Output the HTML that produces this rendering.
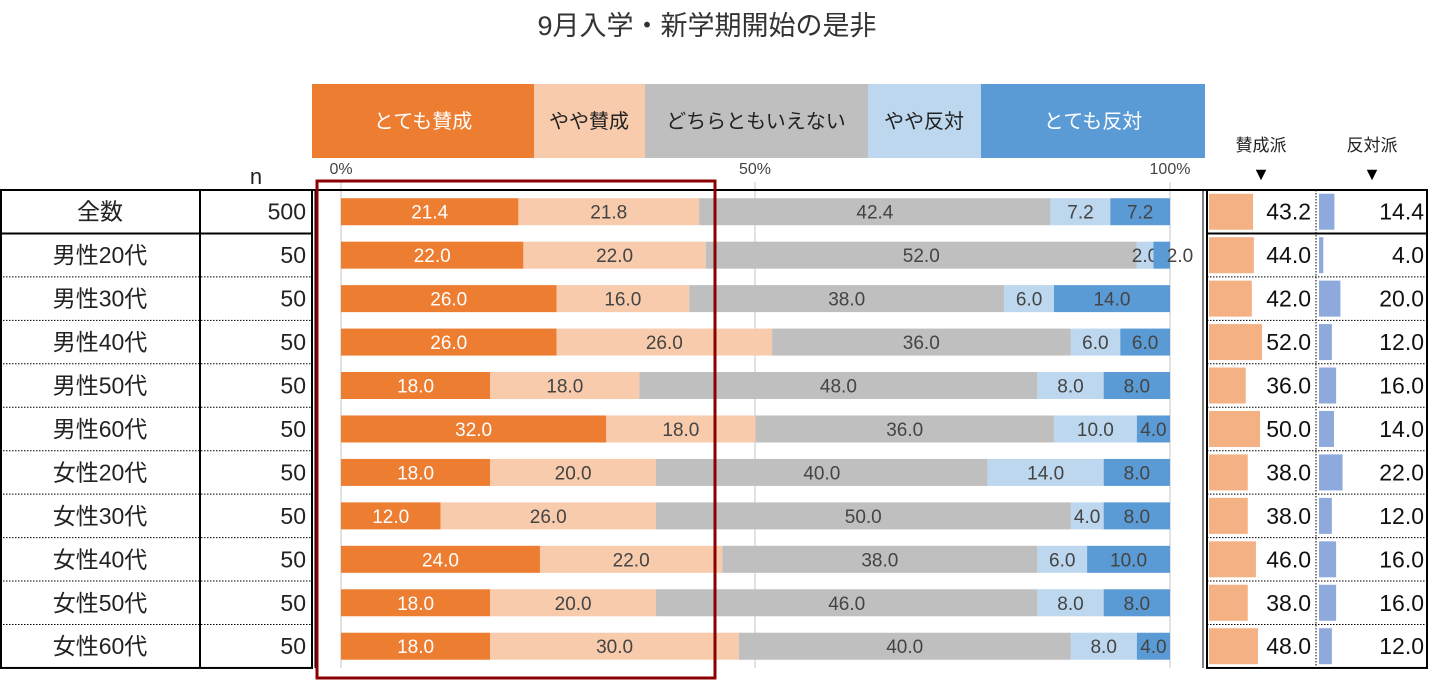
<!DOCTYPE html>
<html><head><meta charset="utf-8"><style>
body{margin:0;background:#fff;}
svg text{font-family:"Liberation Sans","Noto Sans CJK JP",sans-serif;}
</style></head><body>
<svg id="s" width="1430" height="681" xmlns="http://www.w3.org/2000/svg">
<text x="707" y="35" font-size="27" text-anchor="middle" fill="#333">9月入学・新学期開始の是非</text>
<rect x="312" y="84" width="222" height="74" fill="#ED7D31"/><text x="423" y="128" font-size="20" fill="#fff" text-anchor="middle">とても賛成</text>
<rect x="534" y="84" width="111" height="74" fill="#F8CBAD"/><text x="589" y="128" font-size="20" fill="#222" text-anchor="middle">やや賛成</text>
<rect x="645" y="84" width="223" height="74" fill="#BFBFBF"/><text x="756" y="128" font-size="20" fill="#222" text-anchor="middle">どちらともいえない</text>
<rect x="868" y="84" width="113" height="74" fill="#BDD7EE"/><text x="924" y="128" font-size="20" fill="#222" text-anchor="middle">やや反対</text>
<rect x="981" y="84" width="224" height="74" fill="#5B9BD5"/><text x="1093" y="128" font-size="20" fill="#fff" text-anchor="middle">とても反対</text>
<text x="341" y="174" font-size="16" fill="#444" text-anchor="middle">0%</text>
<text x="755" y="174" font-size="16" fill="#444" text-anchor="middle">50%</text>
<text x="1170" y="174" font-size="16" fill="#444" text-anchor="middle">100%</text>
<text x="256" y="184" font-size="22" fill="#222" text-anchor="middle">n</text>
<text x="1261" y="151" font-size="17" fill="#222" text-anchor="middle">賛成派</text>
<text x="1372" y="151" font-size="17" fill="#222" text-anchor="middle">反対派</text>
<text x="1261" y="180" font-size="18" fill="#000" text-anchor="middle">▼</text>
<text x="1372" y="180" font-size="18" fill="#000" text-anchor="middle">▼</text>
<line x1="341" y1="182" x2="341" y2="668" stroke="#D9D9D9" stroke-width="1.5"/>
<line x1="755" y1="182" x2="755" y2="668" stroke="#D9D9D9" stroke-width="1.5"/>
<line x1="1170" y1="182" x2="1170" y2="668" stroke="#D9D9D9" stroke-width="1.5"/>
<g id="g"></g>
<rect x="317" y="181" width="398" height="497" fill="none" stroke="#8B0000" stroke-width="3"/>
</svg>
<script>
var d=[["全数",500,[21.4,21.8,42.4,7.2,7.2],43.2,14.4],["男性20代",50,[22,22,52,2,2],44,4],["男性30代",50,[26,16,38,6,14],42,20],["男性40代",50,[26,26,36,6,6],52,12],["男性50代",50,[18,18,48,8,8],36,16],["男性60代",50,[32,18,36,10,4],50,14],["女性20代",50,[18,20,40,14,8],38,22],["女性30代",50,[12,26,50,4,8],38,12],["女性40代",50,[24,22,38,6,10],46,16],["女性50代",50,[18,20,46,8,8],38,16],["女性60代",50,[18,30,40,8,4],48,12]];
var cols=["#ED7D31","#F8CBAD","#BFBFBF","#BDD7EE","#5B9BD5"],tc=["#fff","#444","#444","#444","#444"];
var h='',t0=190,rh=43.45;
d.forEach(function(r,i){var y=t0+i*rh,cy=y+rh/2;
h+='<text x="100" y="'+(cy+8)+'" font-size="23" text-anchor="middle" fill="#222">'+r[0]+'</text>';
h+='<text x="306" y="'+(cy+8)+'" font-size="23" text-anchor="end" fill="#222">'+r[1]+'</text>';
var x=341;r[2].forEach(function(v,k){var w=v*8.29;h+='<rect x="'+x+'" y="'+(cy-13.5)+'" width="'+w+'" height="27" fill="'+cols[k]+'"/>';
var lx=x+w/2;if(i==1&&k==3)lx=1145;if(i==1&&k==4)lx=1180;
h+='<text x="'+lx+'" y="'+(cy+7)+'" font-size="19" text-anchor="middle" fill="'+tc[k]+'">'+v.toFixed(1)+'</text>';x+=w;});
h+='<rect x="1209" y="'+(cy-18)+'" width="'+(r[3]*1.02)+'" height="36" fill="#F4B183"/>';
h+='<text x="1311" y="'+(cy+8)+'" font-size="23" text-anchor="end" fill="#111">'+r[3].toFixed(1)+'</text>';
h+='<rect x="1319" y="'+(cy-18)+'" width="'+(r[4]*1.07)+'" height="36" fill="#8EA9DB"/>';
h+='<text x="1424" y="'+(cy+8)+'" font-size="23" text-anchor="end" fill="#111">'+r[4].toFixed(1)+'</text>';
if(i>0){var da=i==1?'':' stroke-dasharray="1.5,1.5"';
h+='<line x1="0" y1="'+y+'" x2="312" y2="'+y+'" stroke="#000" stroke-width="'+(i==1?2:1)+'"'+da+'/>';
h+='<line x1="1207" y1="'+y+'" x2="1427" y2="'+y+'" stroke="#000" stroke-width="'+(i==1?2:1)+'"'+da+'/>';}
});
var b=t0+11*rh;
h+='<rect x="1" y="'+t0+'" width="311" height="'+(b-t0)+'" fill="none" stroke="#000" stroke-width="2"/>';
h+='<line x1="200" y1="'+t0+'" x2="200" y2="'+b+'" stroke="#000" stroke-width="2"/>';
h+='<line x1="315" y1="'+t0+'" x2="315" y2="'+b+'" stroke="#000" stroke-width="1"/>';
h+='<line x1="312" y1="'+t0+'" x2="1207" y2="'+t0+'" stroke="#000" stroke-width="2"/>';
h+='<line x1="1203" y1="'+t0+'" x2="1203" y2="'+b+'" stroke="#000" stroke-width="1"/>';
h+='<rect x="1207" y="'+t0+'" width="220" height="'+(b-t0)+'" fill="none" stroke="#000" stroke-width="2"/>';
h+='<line x1="1316" y1="'+t0+'" x2="1316" y2="'+b+'" stroke="#000" stroke-width="1" stroke-dasharray="1.5,1.5"/>';
document.getElementById('g').innerHTML=h;
</script>
</body></html>
